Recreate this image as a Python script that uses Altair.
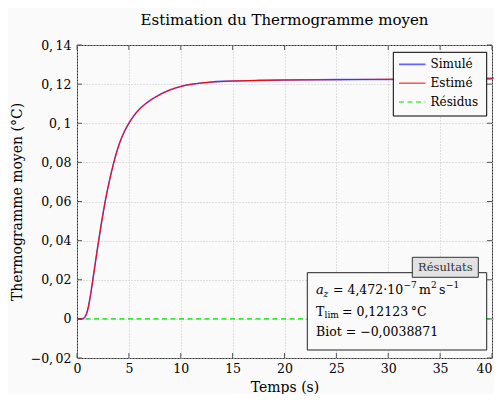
import altair as alt
import pandas as pd

FONT = "DejaVu Serif"
BG = "#fafafa"

title_text = "Estimation du Thermogramme moyen"
x_title = "Temps (s)"
y_title = "Thermogramme moyen (°C)"

series_names = ["Simulé", "Estimé", "Résidus"]
series_colors = ["#0000ff", "#ff0000", "#00dd00"]

x_ticks = [0, 5, 10, 15, 20, 25, 30, 35, 40]
y_ticks = [-0.02, 0, 0.02, 0.04, 0.06, 0.08, 0.1, 0.12, 0.14]

t_sim = [0, 0.5, 0.75, 1.0, 1.25, 1.5, 1.75, 2.0, 2.25, 2.5, 2.75, 3.0, 3.5, 4.0,
         4.5, 5.0, 5.5, 6.0, 6.5, 7.0, 7.5, 8.0, 9.0, 10.0, 11.0, 12.0, 13.0,
         14.0, 15.0, 17.5, 20.0, 25.0, 30.0, 35.0, 40.0]
simule = [0, 0, 0.0008, 0.004, 0.0105, 0.019, 0.028, 0.037, 0.0455, 0.0535,
          0.061, 0.0675, 0.079, 0.0883, 0.0950, 0.1000, 0.1040, 0.1071, 0.1095,
          0.1115, 0.1132, 0.1147, 0.1171, 0.1188, 0.1199, 0.1206, 0.1211,
          0.1214, 0.1216, 0.1219, 0.1221, 0.1223, 0.1224, 0.1226, 0.1227]

t_est = [0, 0.5, 0.75, 1.0, 1.25, 1.5, 1.75, 2.0, 2.25, 2.5, 2.75, 3.0, 3.5, 4.0,
         4.5, 5.0, 5.5, 6.0, 6.5, 7.0, 7.5, 8.0, 9.0, 10.0, 11.0, 12.0, 13.0,
         14.0, 15.0, 17.5, 20.0, 25.0, 30.0, 35.0, 40.0, 40.4]
estime = [0, 0, 0.0008, 0.004, 0.0105, 0.019, 0.028, 0.037, 0.0455, 0.0535,
          0.061, 0.0675, 0.079, 0.0883, 0.0950, 0.1000, 0.1040, 0.1071, 0.1095,
          0.1115, 0.1132, 0.1147, 0.1171, 0.1188, 0.1199, 0.1206, 0.1211,
          0.1214, 0.1216, 0.1219, 0.1221, 0.1223, 0.1225, 0.1228, 0.1231, 0.1232]

t_res = [0, 40.4]
residus = [0, 0]

res_tag = "Résultats"
res1 = ["a", "z", "= 4,472·10", "−7", "m", "2", "s", "−1"]
res2 = ["T", "lim", "= 0,12123\u2009°C"]
res3 = "Biot = −0,0038871"

W, H = 415, 313

x_scale = alt.Scale(domain=[0, 40], nice=False, zero=False)
y_scale = alt.Scale(domain=[-0.02, 0.14], nice=False, zero=False)

x_axis = alt.Axis(values=x_ticks, title=x_title, grid=True, gridDash=[1, 2],
                  gridColor="#c4c4c4", gridWidth=1, tickSize=0, domain=False,
                  labelFont=FONT, labelFontSize=12.5, labelColor="black",
                  labelPadding=4, labelFlush=False,
                  labelAlign={"condition": {"test": "datum.value == 40", "value": "right"},
                              "value": "center"},
                  titleFont=FONT, titleFontSize=14, titleFontWeight="normal",
                  titleColor="black", titleX=W / 2, titleY=29,
                  titleBaseline="middle", titleAlign="center")
y_axis = alt.Axis(values=y_ticks, title=y_title, grid=True, gridDash=[1, 2],
                  gridColor="#c4c4c4", gridWidth=1, tickSize=0, domain=False,
                  labelFont=FONT, labelFontSize=12.5, labelColor="black",
                  labelPadding=6, labelFlush=False,
                  labelExpr="datum.value == 0 ? '0' : replace(replace(format(datum.value, ''), '.', ',\u2009'), '-', '\u2212')",
                  titleFont=FONT, titleFontSize=14, titleFontWeight="normal",
                  titleColor="black", titleAngle=270, titleX=-60, titleY=H / 2,
                  titleBaseline="middle", titleAlign="center")


def X(field="t"):
    return alt.X(f"{field}:Q", scale=x_scale, axis=x_axis)


def Y(field="v"):
    return alt.Y(f"{field}:Q", scale=y_scale, axis=y_axis)


df_sim = pd.DataFrame({"t": t_sim, "v": simule})
df_est = pd.DataFrame({"t": t_est, "v": estime})
df_res = pd.DataFrame({"t": t_res, "v": residus})

layers = []

# inward ticks
dx = pd.DataFrame({"t": x_ticks})
dy = pd.DataFrame({"v": y_ticks})
tick_col = "#555555"
layers.append(alt.Chart(dx).mark_rule(color=tick_col, strokeWidth=1).encode(
    x=X(), y=alt.value(H), y2=alt.value(H - 5)))
layers.append(alt.Chart(dx).mark_rule(color=tick_col, strokeWidth=1).encode(
    x=X(), y=alt.value(0), y2=alt.value(5)))
layers.append(alt.Chart(dy).mark_rule(color=tick_col, strokeWidth=1).encode(
    y=Y(), x=alt.value(0), x2=alt.value(5)))
layers.append(alt.Chart(dy).mark_rule(color=tick_col, strokeWidth=1).encode(
    y=Y(), x=alt.value(W), x2=alt.value(W - 5)))

# series
layers.append(alt.Chart(df_res).mark_line(color=series_colors[2], strokeWidth=1.2,
                                          strokeDash=[5, 3.5], clip=False).encode(x=X(), y=Y()))
layers.append(alt.Chart(df_sim).mark_line(color=series_colors[0], strokeWidth=1.6,
                                          opacity=0.6, clip=False,
                                          interpolate="monotone").encode(x=X(), y=Y()))
layers.append(alt.Chart(df_est).mark_line(color=series_colors[1], strokeWidth=1,
                                          clip=False,
                                          interpolate="monotone").encode(x=X(), y=Y()))

one = alt.Data(values=[{"k": 1}])

# legend box
layers.append(alt.Chart(one).mark_rect(fill=BG, stroke="black", strokeWidth=1).encode(
    x=alt.value(316.3), x2=alt.value(409.7), y=alt.value(7.3), y2=alt.value(71)))
dashes = [[1, 0], [1, 0], [5, 3.5]]
widths = [1.8, 1, 1.2]
opac = [0.6, 1, 1]
for i, name in enumerate(series_names):
    yy = 19.3 + i * 18.85
    layers.append(alt.Chart(one).mark_rule(color=series_colors[i], strokeWidth=widths[i],
                                           strokeDash=dashes[i], opacity=opac[i]).encode(
        x=alt.value(322), x2=alt.value(348.5), y=alt.value(yy)))
    layers.append(alt.Chart(one).mark_text(font=FONT, fontSize=12, align="left",
                                           baseline="middle", color="black").encode(
        x=alt.value(353.5), y=alt.value(yy), text=alt.value(name)))

# results box
layers.append(alt.Chart(one).mark_rect(fill=BG, stroke="#222", strokeWidth=1).encode(
    x=alt.value(230.3), x2=alt.value(409.7), y=alt.value(227.7), y2=alt.value(305)))
layers.append(alt.Chart(one).mark_rect(fill="#e2e2e2", stroke="#333", strokeWidth=1).encode(
    x=alt.value(335.3), x2=alt.value(401.3), y=alt.value(212.3), y2=alt.value(232.3)))
layers.append(alt.Chart(one).mark_text(font=FONT, fontSize=11.5, align="center",
                                       baseline="middle", color="#333").encode(
    x=alt.value(368.3), y=alt.value(222.8), text=alt.value(res_tag)))


def txt(x, y, s, size=12.5, italic=False):
    return alt.Chart(one).mark_text(font=FONT, fontSize=size, align="left",
                                    baseline="middle", color="black",
                                    fontStyle="italic" if italic else "normal").encode(
        x=alt.value(x), y=alt.value(y), text=alt.value(s))


l1, l2, l3 = 245, 266.7, 286.7
layers.append(txt(239, l1, res1[0], 13, True))
layers.append(txt(246.5, l1 + 3.5, res1[1], 9, True))
layers.append(txt(256, l1, res1[2]))
layers.append(txt(326.5, l1 - 5, res1[3], 9))
layers.append(txt(342, l1, res1[4]))
layers.append(txt(354, l1 - 5, res1[5], 9))
layers.append(txt(362, l1, res1[6]))
layers.append(txt(369, l1 - 5, res1[7], 9))
layers.append(txt(239, l2, res2[0]))
layers.append(txt(247.5, l2 + 3.5, res2[1], 9))
layers.append(txt(265, l2, res2[2]))
layers.append(txt(239, l3, res3))

chart = alt.layer(*layers).properties(
    width=W, height=H,
    title=alt.TitleParams(title_text, font=FONT, fontSize=15, fontWeight="normal",
                          color="black", anchor="middle", frame="group", offset=11),
    autosize=alt.AutoSizeParams(type="none"),
    padding={"left": 69, "top": 37, "right": 2, "bottom": 36},
    background=BG,
).configure_view(stroke="#333333", strokeWidth=1)

chart.save("out.html", embed_options={"renderer": "svg", "actions": False})
